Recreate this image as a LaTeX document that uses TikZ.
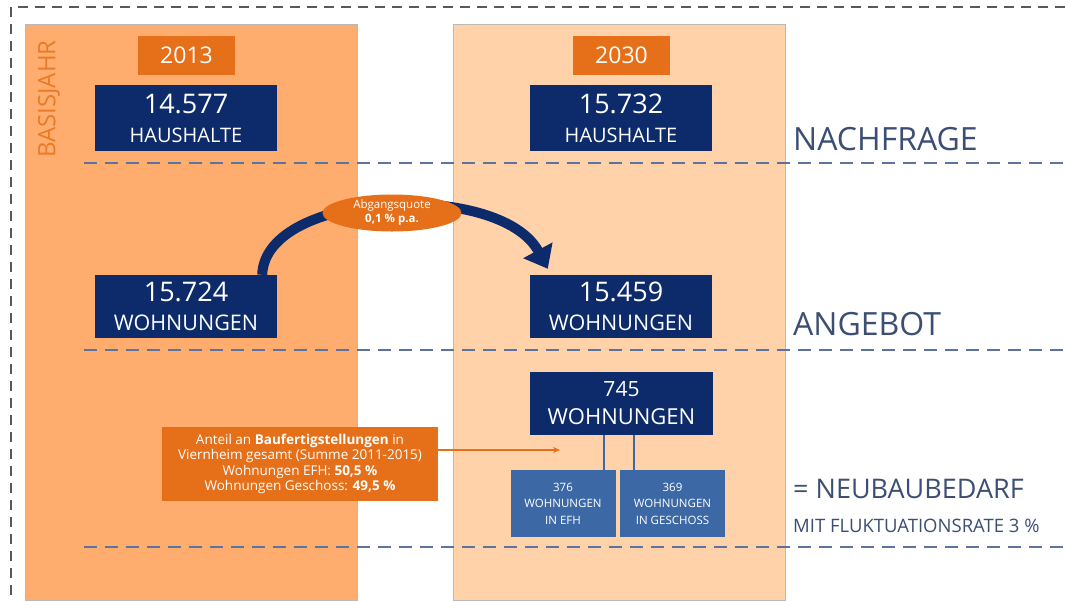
\documentclass[tikz,border=0pt]{standalone}
\usepackage{fontspec}
\setmainfont{Open Sans}
\usetikzlibrary{arrows.meta,shapes.geometric,positioning}
\definecolor{basisorange}{RGB}{255,173,110}
\definecolor{zielorange}{RGB}{255,210,170}
\definecolor{boxorange}{RGB}{230,112,25}
\definecolor{jahrorange}{RGB}{234,122,40}
\definecolor{navy}{RGB}{13,43,107}
\definecolor{midblue}{RGB}{60,105,165}
\definecolor{labelblue}{RGB}{60,78,115}
\definecolor{lineblue}{RGB}{90,115,160}
\newcommand{\fs}[2]{\fontsize{#1}{#2}\selectfont}

\begin{document}
\begin{tikzpicture}[x=1pt,y=-1pt,every node/.style={inner sep=0pt,text=white},
  column/.style={draw=gray!55,line width=0.6pt,minimum width=332pt,minimum height=576pt,anchor=north west},
  yearbox/.style={fill=boxorange,minimum width=97pt,minimum height=39pt,font=\fs{23}{23}},
  valbox/.style={fill=navy,minimum width=182pt,align=center},
  subbox/.style={fill=midblue,minimum width=105pt,minimum height=67pt,align=center,font=\fs{11.5}{16.5}},
  level/.style={draw=lineblue,line width=2.5pt,dash pattern=on 13pt off 8pt},
  rowlabel/.style={anchor=base west,text=labelblue}]
  \useasboundingbox (0,0) rectangle (1065,600);
  \draw[gray!70!black,line width=2.5pt,dash pattern=on 10pt off 7pt] (1065,7) -- (11,7) -- (11,600);
  \foreach \c/\x/\m/\yr/\col/\hh/\ww in {13/25/186/2013/basisorange/14.577/15.724,30/453/621/2030/zielorange/15.732/15.459}{
    \node[column,fill=\col] (col\c) at (\x,24) {};
    \node[yearbox] (yr\c) at (\m+0.5,55.5) {\yr};
    \node[valbox,minimum height=66pt,font=\fs{20}{29}] (hh\c) at (\m,118) {{\fs{27}{27}\hh}\\HAUSHALTE};
    \node[valbox,minimum height=63pt,font=\fs{21.5}{29}] (ww\c) at (\m,306.5) {{\fs{27}{27}\ww}\\WOHNUNGEN};
  }
  \foreach \y in {163,350,547}
    \draw[level] (84,\y) -- (1065,\y);
  \node[rotate=90,text=jahrorange,font=\fs{24}{24}] (basis) at (49,99) {BASISJAHR};
  \node[rowlabel,font=\fs{32}{32}] (nachfrage) at (793,150) {NACHFRAGE};
  \node[rowlabel,font=\fs{32}{32}] (angebot) at (793,335) {ANGEBOT};
  \node[rowlabel,font=\fs{27}{27}] (neubau) at (793,498) {= NEUBAUBEDARF};
  \node[rowlabel,font=\fs{18.5}{18.5}] (fluk) at (793,532) {MIT FLUKTUATIONSRATE 3 \%};
  \draw[navy,line width=10pt,-{Triangle[length=21pt,width=32pt]}] ([xshift=-15pt]ww13.north east) .. controls (265,190) and (500,180) .. ([xshift=18pt,yshift=6pt]ww30.north west);
  \node[ellipse,fill=boxorange,minimum width=139pt,minimum height=37pt,align=center,font=\fs{11.5}{14}] (quote) at (392,213) {Abgangsquote\\\textbf{0,1 \% p.a.}};
  \node[valbox,minimum width=183pt,minimum height=63pt,font=\fs{22}{28}] (neu) at (621.5,403) {{\fs{21}{21}745}\\WOHNUNGEN};
  \node[subbox] (efh) at (563,503.5) {376\\WOHNUNGEN\\IN EFH};
  \node[subbox] (gesch) at (672.5,503.5) {369\\WOHNUNGEN\\IN GESCHOSS};
  \draw[midblue,line width=2pt] ([xshift=-12pt]efh.north east) -- ([xshift=-12pt]efh.north east |- neu.south);
  \draw[midblue,line width=2pt] ([xshift=14pt]gesch.north west) -- ([xshift=14pt]gesch.north west |- neu.south);
  \node[fill=boxorange,minimum width=276pt,minimum height=74pt,align=center,font=\fs{13.5}{15.5}] (info) at (300,464)
    {Anteil an \textbf{Baufertigstellungen} in\\Viernheim gesamt (Summe 2011-2015)\\Wohnungen EFH: \textbf{50,5 \%}\\Wohnungen Geschoss: \textbf{49,5 \%}};
  \coordinate (infotip) at (560,450);
  \draw[boxorange,line width=1.5pt,-{Stealth[length=7pt,width=6pt]}] ([yshift=14pt]info.east) -- (infotip);
\end{tikzpicture}
\end{document}
